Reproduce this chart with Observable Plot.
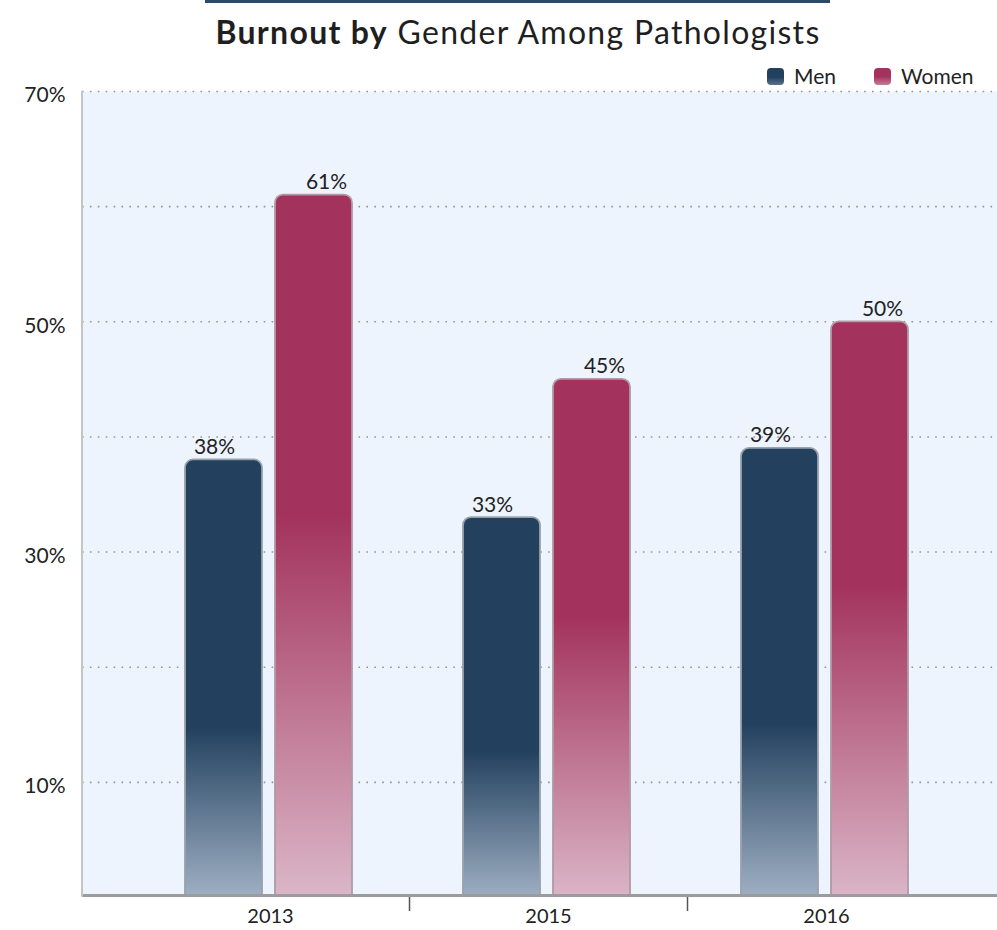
<!DOCTYPE html>
<html>
<head>
<meta charset="utf-8">
<script src="https://cdn.jsdelivr.net/npm/d3@7"></script>
<script src="https://cdn.jsdelivr.net/npm/@observablehq/plot@0.6"></script>
<style>
  body { margin: 0; background: #fff; font-family: Lato, "Open Sans", sans-serif; }
  #wrap { position: relative; width: 997px; height: 930px; overflow: hidden; }
  #topline { position: absolute; left: 205px; top: 0; width: 625px; height: 3px; background: #2c4a6c; }
  #title { position: absolute; left: 0; top: 16px; width: 1036px; text-align: center; font-size: 32px; line-height: 32px; letter-spacing: 1.3px; color: #1f1f1f; white-space: nowrap; }
  #title b { font-weight: 700; }
  .leg { position: absolute; top: 64px; font-size: 21px; line-height: 24px; color: #222; display: flex; align-items: center; }
  .sw { width: 17px; height: 17px; border-radius: 4px; margin-right: 10px; }
  #chart { position: absolute; left: 0; top: 0; }
</style>
</head>
<body>
<div id="wrap">
  <div id="chart"></div>
  <div id="topline"></div>
  <div id="title"><b>Burnout by</b> Gender Among Pathologists</div>
  <div class="leg" style="left:767px"><div class="sw" style="background:linear-gradient(#23415f 55%, #5a7290)"></div>Men</div>
  <div class="leg" style="left:874px"><div class="sw" style="background:linear-gradient(#a3335c 50%, #c77a9b)"></div>Women</div>
</div>
<script>
const years = ["2013", "2015", "2016"];
const men = [38, 33, 39];
const women = [61, 45, 50];
const yLabelTicks = [10, 30, 50, 70];
const gridTicks = [10, 20, 30, 40, 50, 60, 70];

const menData = years.map((y, i) => ({year: y, value: men[i]}));
const womenData = years.map((y, i) => ({year: y, value: women[i]}));

const plot = Plot.plot({
  width: 997,
  height: 930,
  marginTop: 91,
  marginBottom: 33,
  marginLeft: 82,
  marginRight: 0,
  style: {background: "transparent", fontFamily: "Lato, 'Open Sans', sans-serif", color: "#222", overflow: "visible"},
  x: {domain: years, range: [131, 965], padding: 0},
  y: {domain: [0, 70]},
  marks: [
    Plot.frame({fill: "#eef4fd", stroke: null}),
    Plot.gridY(gridTicks, {stroke: "#8a8a8a", strokeOpacity: 0.9, strokeWidth: 1.6, strokeDasharray: "1.6,6.3"}),
    Plot.barY(menData, {x: "year", y: "value", fill: "url(#gMen)", stroke: "#98a2ac", strokeWidth: 1.8,
      insetLeft: 54, insetRight: 147, rx: 8, insetBottom: -10, clip: true}),
    Plot.barY(womenData, {x: "year", y: "value", fill: "url(#gWomen)", stroke: "#b09aa5", strokeWidth: 1.8,
      insetLeft: 144, insetRight: 57, rx: 8, insetBottom: -10, clip: true}),
    Plot.ruleY([0], {stroke: "#9c9c9c", strokeWidth: 3, dy: -2}),
    Plot.text(menData, {x: "year", y: "value", text: d => d.value + "%", dx: -56, dy: -6, lineAnchor: "bottom", fontSize: 21, fill: "#222"}),
    Plot.text(womenData, {x: "year", y: "value", text: d => d.value + "%", dx: 56, dy: -6, lineAnchor: "bottom", fontSize: 21, fill: "#222"}),
    Plot.axisY(yLabelTicks, {tickSize: 0, tickPadding: 17, tickFormat: d => d + "%", fontSize: 21, dy: 4, label: null}),
    Plot.axisX({tickSize: 0, tickPadding: 11, fontSize: 20, label: null}),
    Plot.axisX(years.slice(1), {tickSize: 14, tickFormat: () => "", dx: -139, stroke: "#555", strokeWidth: 1.5, label: null})
  ]
});

const svg = d3.select(plot);
const defs = svg.insert("defs", ":first-child");
const gm = defs.append("linearGradient").attr("id", "gMen").attr("x1", 0).attr("y1", 0).attr("x2", 0).attr("y2", 1);
gm.append("stop").attr("offset", "0").attr("stop-color", "#23415f");
gm.append("stop").attr("offset", "0.6").attr("stop-color", "#23415f");
gm.append("stop").attr("offset", "1").attr("stop-color", "#a6b6c9");
const gw = defs.append("linearGradient").attr("id", "gWomen").attr("x1", 0).attr("y1", 0).attr("x2", 0).attr("y2", 1);
gw.append("stop").attr("offset", "0").attr("stop-color", "#a3335c");
gw.append("stop").attr("offset", "0.45").attr("stop-color", "#a3335c");
gw.append("stop").attr("offset", "1").attr("stop-color", "#dcbacb");

// y-axis domain line
svg.append("line").attr("x1", 82).attr("x2", 82).attr("y1", 91).attr("y2", 897)
  .attr("stroke", "#c4c4c4").attr("stroke-width", 2);

document.getElementById("chart").appendChild(plot);
</script>
</body>
</html>
